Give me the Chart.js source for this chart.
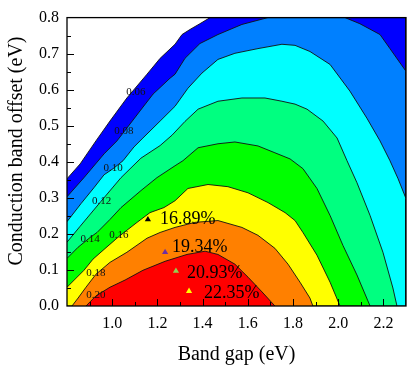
<!DOCTYPE html>
<html><head><meta charset="utf-8">
<script src="https://cdn.jsdelivr.net/npm/chart.js@4.4.1/dist/chart.umd.min.js"></script>
<style>html,body{margin:0;padding:0;background:#fff}#wrap{width:418px;height:368px;position:relative}</style>
</head><body><div id="wrap"><canvas id="c" width="418" height="368"></canvas></div>
<script>
// ---- data (band gap eV, conduction band offset eV) ----
const levels = [0.06, 0.08, 0.10, 0.12, 0.14, 0.16, 0.18, 0.20];
const levelLabels = ['0.06','0.08','0.10','0.12','0.14','0.16','0.18','0.20'];
const levelColors = ['#0000FF','#0080FF','#00FFFF','#00FF80','#00FF00','#FFFF00','#FF8000','#FF0000'];

const contour006 = [[0.800,0.353],[0.858,0.394],[0.928,0.458],[0.990,0.513],[1.065,0.577],[1.154,0.643],[1.212,0.687],[1.278,0.726],[1.309,0.753],[1.344,0.767],[1.388,0.783],[1.433,0.800]];
const contour008 = [[0.800,0.303],[0.875,0.356],[0.964,0.422],[1.021,0.458],[1.052,0.483],[1.123,0.541],[1.181,0.588],[1.256,0.632],[1.278,0.643],[1.322,0.687],[1.388,0.728],[1.468,0.753],[1.574,0.781],[1.689,0.800],[2.030,0.800],[2.096,0.783],[2.185,0.753],[2.229,0.714],[2.300,0.651]];
const contour010 = [[0.800,0.234],[0.862,0.284],[0.919,0.328],[0.964,0.364],[1.004,0.381],[1.048,0.403],[1.096,0.441],[1.136,0.466],[1.212,0.513],[1.278,0.554],[1.335,0.604],[1.397,0.646],[1.468,0.684],[1.543,0.701],[1.645,0.714],[1.751,0.726],[1.809,0.723],[1.875,0.706],[1.964,0.670],[2.052,0.596],[2.127,0.521],[2.185,0.458],[2.229,0.403],[2.265,0.353],[2.300,0.298]];
const contour012 = [[0.800,0.177],[0.858,0.221],[0.950,0.290],[1.039,0.356],[1.127,0.410],[1.212,0.445],[1.265,0.474],[1.322,0.512],[1.380,0.546],[1.468,0.568],[1.574,0.577],[1.676,0.577],[1.751,0.568],[1.809,0.560],[1.862,0.546],[1.933,0.513],[1.995,0.466],[2.039,0.403],[2.083,0.342],[2.141,0.251],[2.198,0.149],[2.242,0.050],[2.260,0.000]];
const contour014 = [[0.800,0.132],[0.849,0.163],[0.902,0.190],[0.933,0.204],[0.990,0.240],[1.039,0.273],[1.127,0.320],[1.198,0.356],[1.278,0.389],[1.313,0.403],[1.380,0.439],[1.468,0.450],[1.543,0.455],[1.645,0.444],[1.720,0.425],[1.787,0.408],[1.844,0.381],[1.906,0.326],[1.964,0.251],[2.021,0.168],[2.083,0.086],[2.141,0.000]];
const contour016 = [[0.800,0.052],[0.875,0.099],[0.915,0.130],[0.964,0.157],[1.030,0.193],[1.110,0.232],[1.167,0.259],[1.229,0.273],[1.278,0.292],[1.335,0.326],[1.424,0.337],[1.512,0.331],[1.601,0.314],[1.689,0.287],[1.765,0.259],[1.809,0.237],[1.844,0.204],[1.906,0.141],[1.964,0.066],[2.008,0.000]];
const contour018 = [[0.822,0.000],[0.849,0.022],[0.884,0.052],[0.928,0.088],[0.990,0.121],[1.065,0.149],[1.154,0.188],[1.212,0.204],[1.278,0.218],[1.366,0.232],[1.468,0.237],[1.574,0.218],[1.645,0.196],[1.720,0.160],[1.778,0.116],[1.831,0.066],[1.875,0.022],[1.888,0.000]];
const contour020 = [[0.884,0.000],[0.928,0.028],[0.990,0.052],[1.057,0.072],[1.136,0.099],[1.234,0.124],[1.331,0.143],[1.411,0.152],[1.468,0.143],[1.543,0.116],[1.601,0.080],[1.663,0.039],[1.720,0.000]];
const contours = [contour006, contour008, contour010, contour012, contour014, contour016, contour018, contour020];
// which plot corners close each "value >= level" region
const regionCorners = [['tr','br','bl'],['br','bl'],['br','bl'],['bl'],['bl'],['bl'],[],[]];
// contour label anchors (band gap, CBO)
const labelGap = [1.105, 1.052, 1.004, 0.953, 0.902, 1.030, 0.928, 0.928];
const labelCBO = [0.594, 0.484, 0.382, 0.290, 0.186, 0.196, 0.091, 0.030];

// marked devices
const markerGap = [1.158, 1.234, 1.282, 1.340];
const markerCBO = [0.240, 0.149, 0.097, 0.041];
const markerText = ['16.89%', '19.34%', '20.93%', '22.35%'];
const markerColors = ['#000000', '#7030A0', '#92D050', '#FFFF00'];
const markerTextGap = [1.211, 1.265, 1.331, 1.406];
const markerTextCBO = [0.240, 0.163, 0.091, 0.036];

const xTicks = [1.0, 1.2, 1.4, 1.6, 1.8, 2.0, 2.2];
const yTicks = [0.0, 0.1, 0.2, 0.3, 0.4, 0.5, 0.6, 0.7, 0.8];
const xMin = 0.8, xMax = 2.3, yMin = 0.0, yMax = 0.8;

const SERIF = "'Liberation Serif','Times New Roman',serif";
const cornerPts = {tr: {x: xMax, y: yMax}, br: {x: xMax, y: yMin}, bl: {x: xMin, y: yMin}};

const datasets = contours.map((c, i) => ({
  data: c.map(p => ({x: p[0], y: p[1]})).concat(regionCorners[i].map(k => cornerPts[k])),
  showLine: true,
  fill: 'shape',
  backgroundColor: levelColors[i],
  borderColor: '#111',
  borderWidth: 0.9,
  pointRadius: 0,
  tension: 0,
  order: 20 - i
}));
datasets.push({
  data: markerGap.map((g, i) => ({x: g, y: markerCBO[i]})),
  pointStyle: 'triangle',
  pointRadius: 3.6,
  backgroundColor: markerColors,
  borderColor: markerColors,
  borderWidth: 0,
  showLine: false,
  order: 0
});

const decor = {
  id: 'decor',
  afterDatasetsDraw(chart) {
    const {ctx, chartArea: a, scales: {x, y}} = chart;
    ctx.save();
    // contour labels
    ctx.fillStyle = '#111';
    ctx.font = '11px ' + SERIF;
    ctx.textAlign = 'center';
    ctx.textBaseline = 'middle';
    levelLabels.forEach((t, i) => {
      ctx.fillText(t, x.getPixelForValue(labelGap[i]), y.getPixelForValue(labelCBO[i]));
    });
    // marker labels
    ctx.font = '18px ' + SERIF;
    ctx.textAlign = 'left';
    ctx.fillStyle = '#000';
    markerText.forEach((t, i) => {
      ctx.fillText(t, x.getPixelForValue(markerTextGap[i]), y.getPixelForValue(markerTextCBO[i]));
    });
    // inward ticks
    ctx.strokeStyle = '#000';
    ctx.lineWidth = 1;
    ctx.beginPath();
    for (let i = 9; i <= 22; i++) {
      const px = Math.round(x.getPixelForValue(i / 10)) + 0.5;
      const len = (i % 2 === 0) ? 7 : 4;
      ctx.moveTo(px, a.bottom); ctx.lineTo(px, a.bottom - len);
    }
    for (let i = 1; i <= 15; i++) {
      const py = Math.round(y.getPixelForValue(i / 20)) + 0.5;
      const len = (i % 2 === 0) ? 7 : 4;
      ctx.moveTo(a.left, py); ctx.lineTo(a.left + len, py);
    }
    ctx.stroke();
    // frame
    ctx.lineWidth = 1.3;
    ctx.strokeStyle = '#000';
    ctx.strokeRect(a.left, a.top, a.right - a.left, a.bottom - a.top);
    // axis titles
    ctx.fillStyle = '#000';
    ctx.font = '20px ' + SERIF;
    ctx.textAlign = 'center';
    ctx.textBaseline = 'middle';
    ctx.fillText('Band gap (eV)', (a.left + a.right) / 2, 355);
    ctx.translate(17, 151);
    ctx.rotate(-Math.PI / 2);
    ctx.fillText('Conduction band offset (eV)', 0, 0);
    ctx.restore();
  }
};

new Chart(document.getElementById('c'), {
  type: 'scatter',
  data: {datasets},
  options: {
    responsive: false,
    animation: false,
    events: [],
    layout: {padding: {top: 16, right: 12, left: 0, bottom: 0}},
    plugins: {legend: {display: false}, tooltip: {enabled: false}},
    scales: {
      x: {
        type: 'linear', min: xMin, max: xMax,
        grid: {display: false, drawTicks: false},
        border: {display: false},
        afterBuildTicks: s => { s.ticks = xTicks.map(v => ({value: v})); },
        afterFit: s => { s.height = 62; },
        ticks: {autoSkip: false, maxRotation: 0, padding: 8, color: '#000',
          font: {family: SERIF, size: 16}, callback: v => Number(v).toFixed(1)}
      },
      y: {
        type: 'linear', min: yMin, max: yMax,
        grid: {display: false, drawTicks: false},
        border: {display: false},
        afterBuildTicks: s => { s.ticks = yTicks.map(v => ({value: v})); },
        afterFit: s => { s.width = 67; },
        ticks: {autoSkip: false, padding: 8, color: '#000',
          font: {family: SERIF, size: 16}, callback: v => Number(v).toFixed(1)}
      }
    }
  },
  plugins: [decor]
});
</script></body></html>
